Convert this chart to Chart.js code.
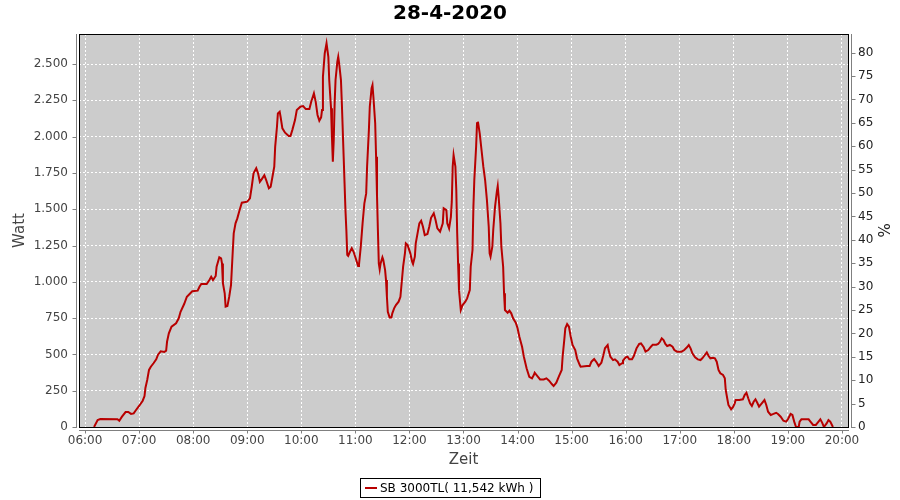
<!DOCTYPE html>
<html>
<head>
<meta charset="utf-8">
<script src="https://cdn.jsdelivr.net/npm/chart.js@4.4.0/dist/chart.umd.min.js"></script>
<style>
html,body{margin:0;padding:0;background:#fff;}
#wrap{width:900px;height:500px;}
</style>
</head>
<body>
<div id="wrap"><canvas id="c" width="900" height="500"></canvas></div>
<script>
const chartTitle = '28-4-2020';
const seriesLabel = 'SB 3000TL( 11,542 kWh )';
const xAxisTitle = 'Zeit';
const yAxisTitle = 'Watt';
const y2AxisTitle = '%';

const times = [
'06:10','06:14','06:17','06:36','06:38','06:41','06:45','06:48','06:51','06:54','06:56',
'07:00','07:04','07:06','07:07','07:09','07:11','07:13','07:16','07:19','07:21','07:24','07:28','07:30','07:31','07:33','07:36','07:41','07:44','07:46','07:50','07:53','07:59',
'08:05','08:07','08:09','08:15','08:18','08:20','08:22','08:25','08:26','08:29','08:31','08:32','08:33','08:35','08:36','08:38','08:40','08:42','08:44','08:45','08:47','08:49','08:51','08:54',
'09:00','09:03','09:05','09:07','09:10','09:12','09:14','09:16','09:19','09:21','09:24','09:26','09:28','09:30','09:31','09:33','09:34','09:36','09:37','09:39','09:42','09:46','09:48','09:50','09:53','09:55','09:59',
'10:02','10:05','10:09','10:11','10:14','10:16','10:18','10:20','10:22','10:23','10:24','10:26','10:28','10:30','10:31','10:33','10:34','10:35','10:36','10:37','10:38','10:40','10:41','10:42','10:44','10:45','10:47','10:48','10:49','10:50','10:51','10:52','10:54','10:56','10:58',
'11:01','11:03','11:04','11:06','11:08','11:10','11:12','11:13','11:15','11:16','11:18','11:19','11:20','11:22','11:23','11:24','11:25','11:26','11:27','11:28','11:30','11:31','11:33','11:34','11:35','11:36','11:38','11:40','11:41','11:43','11:45','11:48','11:50','11:51','11:53','11:55','11:56','11:58',
'12:01','12:03','12:04','12:06','12:07','12:09','12:11','12:13','12:15','12:17','12:20','12:22','12:24','12:27','12:29','12:31','12:34','12:37','12:38','12:41','12:42','12:44','12:46','12:47','12:48','12:49','12:51','12:52','12:53','12:54','12:55','12:57','12:59',
'13:02','13:04','13:07','13:08','13:10','13:11','13:12','13:14','13:15','13:16','13:18','13:20','13:22','13:24','13:26','13:28','13:29','13:30','13:32','13:33','13:35','13:37','13:38','13:39','13:41','13:42','13:44','13:45','13:46','13:49','13:51','13:53','13:55','13:58',
'14:00','14:02','14:05','14:07','14:10','14:13','14:16','14:18','14:19','14:22','14:25','14:29','14:32','14:35','14:38','14:40','14:43','14:46','14:49','14:50','14:52','14:53','14:55','14:57','14:59',
'15:01','15:04','15:06','15:09','15:10','15:17','15:20','15:22','15:25','15:28','15:30','15:33','15:35','15:37','15:40','15:41','15:43','15:46','15:48','15:51','15:53','15:56','15:57',
'16:00','16:02','16:04','16:07','16:09','16:12','16:15','16:17','16:20','16:22','16:25','16:28','16:30','16:34','16:36','16:38','16:40','16:42','16:44','16:46','16:49','16:52','16:54','16:57',
'17:02','17:05','17:08','17:10','17:12','17:14','17:17','17:20','17:23','17:25','17:27','17:30','17:32','17:34','17:37','17:39','17:41','17:43','17:45','17:48','17:50','17:51','17:53','17:54','17:57','17:59',
'18:01','18:02','18:06','18:10','18:12','18:14','18:16','18:18','18:20','18:22','18:24','18:26','18:28','18:31','18:34','18:36','18:38','18:41','18:44','18:47','18:49','18:52','18:55','18:58',
'19:00','19:03','19:05','19:07','19:09','19:12','19:13','19:15','19:23','19:25','19:28','19:31','19:34','19:36','19:38','19:40','19:43','19:45','19:47','19:50'
];

const watts = [
0,48,55,53,43,71,103,103,90,94,112,
145,181,213,269,324,393,415,439,466,498,521,517,525,587,645,691,714,749,794,847,897,935,
939,966,985,985,1012,1035,1012,1040,1104,1169,1162,1127,990,921,829,833,897,978,1219,1334,1403,1437,1483,1545,
1552,1575,1655,1747,1782,1747,1689,1706,1735,1701,1644,1655,1724,1793,1930,2068,2160,2172,2137,2057,2027,2004,2004,2045,2114,2183,2206,
2211,2190,2190,2240,2298,2240,2149,2110,2133,2183,2412,2574,2643,2550,2390,2195,1999,1827,1977,2229,2390,2516,2550,2505,2390,2229,1862,1678,1494,1357,1185,1178,1207,1231,1207,
1150,1109,1116,1242,1403,1541,1609,1793,2045,2206,2333,2355,2275,2092,1862,1598,1357,1127,1086,1127,1169,1150,1081,1012,897,794,755,755,783,817,840,863,897,966,1104,1196,1265,1253,
1196,1138,1123,1173,1265,1334,1403,1421,1379,1322,1329,1379,1441,1472,1426,1368,1345,1403,1506,1494,1403,1368,1448,1552,1793,1873,1793,1632,1334,1127,943,806,840,
863,886,943,1104,1219,1517,1701,1930,2092,2103,2022,1908,1793,1701,1563,1379,1196,1173,1242,1357,1517,1621,1660,1586,1403,1242,1104,921,806,787,801,783,749,718,
680,622,553,484,404,346,335,358,374,351,328,328,335,319,296,282,305,351,393,484,611,680,709,691,622,
565,530,473,427,415,420,420,450,468,443,420,443,489,542,565,530,484,461,466,450,427,439,457,
480,484,466,466,489,542,572,576,549,519,530,553,567,567,572,587,611,599,572,558,565,553,530,519,
519,530,549,565,542,508,480,466,461,473,489,514,489,473,477,473,450,393,370,358,335,255,186,152,122,136,
163,186,186,191,220,236,198,163,145,174,191,167,140,163,186,152,105,83,90,98,90,71,43,37,
53,90,83,37,0,0,37,53,53,37,14,14,37,53,30,0,25,48,37,0
];

const hourTicks = ['06:00','07:00','08:00','09:00','10:00','11:00','12:00','13:00','14:00','15:00','16:00','17:00','18:00','19:00','20:00'];
const wattTicks = [0,250,500,750,1000,1250,1500,1750,2000,2250,2500];
const percentTicks = [0,5,10,15,20,25,30,35,40,45,50,55,60,65,70,75,80];

const wattMax = 2707;
const percentMax = 84;
const timeMin = 353.3;   // minutes after midnight
const timeMax = 1206.7;

const toMin = s => { const p = s.split(':').map(Number); return p[0] * 60 + p[1]; };
const pad2 = n => String(n).padStart(2, '0');
const fmtTime = v => pad2(Math.floor(v / 60)) + ':' + pad2(Math.round(v % 60));
const fmtNum = v => String(v).replace(/\B(?=(\d{3})+(?!\d))/g, '.');

const FONT = 'DejaVu Sans';
Chart.defaults.font.family = FONT;

const lineColor = '#b80000';

const plotDecor = {
  id: 'plotDecor',
  beforeDraw(chart) {
    const {ctx, chartArea: a} = chart;
    ctx.save();
    ctx.fillStyle = '#ffffff';
    ctx.fillRect(0, 0, chart.width, chart.height);
    ctx.fillStyle = '#cccccc';
    ctx.fillRect(a.left, a.top, a.right - a.left, a.bottom - a.top);
    ctx.restore();
  },
  afterDraw(chart) {
    const {ctx, chartArea: a, scales} = chart;
    ctx.save();
    ctx.strokeStyle = '#000';
    ctx.lineWidth = 1;
    ctx.strokeRect(a.left + 0.5, a.top + 0.5, a.right - a.left, a.bottom - a.top);
    ctx.strokeStyle = '#808080';
    ctx.beginPath();
    const lx = a.left - 2.5, rx = a.right + 3.5, by = a.bottom + 3.5;
    ctx.moveTo(lx, a.top); ctx.lineTo(lx, a.bottom + 1);
    ctx.moveTo(rx, a.top); ctx.lineTo(rx, a.bottom + 1);
    ctx.moveTo(a.left, by); ctx.lineTo(a.right + 1, by);
    scales.y.ticks.forEach(t => {
      const y = Math.round(scales.y.getPixelForValue(t.value)) + 0.5;
      ctx.moveTo(lx - 4, y); ctx.lineTo(lx, y);
    });
    scales.y1.ticks.forEach(t => {
      const y = Math.round(scales.y1.getPixelForValue(t.value)) + 0.5;
      ctx.moveTo(rx, y); ctx.lineTo(rx + 4, y);
    });
    scales.x.ticks.forEach(t => {
      const x = Math.round(scales.x.getPixelForValue(t.value)) + 0.5;
      ctx.moveTo(x, by); ctx.lineTo(x, by + 3);
    });
    ctx.stroke();
    const ds = chart.data.datasets[0];
    ctx.font = '12px "' + FONT + '"';
    const tw = ctx.measureText(ds.label).width;
    const total = 5 + 12 + 3 + tw + 7;
    const left = Math.round(450.5 - total / 2);
    const top = 478, h = 19;
    ctx.strokeStyle = '#000';
    ctx.lineWidth = 1;
    ctx.strokeRect(left + 0.5, top + 0.5, Math.round(total), h);
    ctx.strokeStyle = ds.borderColor;
    ctx.lineWidth = 2;
    ctx.beginPath();
    ctx.moveTo(left + 5, top + 10); ctx.lineTo(left + 17, top + 10);
    ctx.stroke();
    ctx.fillStyle = '#000';
    ctx.textBaseline = 'middle';
    ctx.textAlign = 'left';
    ctx.fillText(ds.label, left + 20, top + 10.5);
    ctx.restore();
  }
};

new Chart(document.getElementById('c'), {
  type: 'line',
  data: {
    datasets: [{
      label: seriesLabel,
      data: times.map((t, i) => ({x: toMin(t), y: watts[i]})),
      borderColor: lineColor,
      backgroundColor: lineColor,
      borderWidth: 2,
      pointRadius: 0,
      tension: 0,
      fill: false,
      yAxisID: 'y'
    }]
  },
  options: {
    responsive: false,
    animation: false,
    devicePixelRatio: 1,
    layout: {padding: 0},
    plugins: {
      legend: {display: false},
      tooltip: {enabled: false},
      title: {
        display: true,
        text: chartTitle,
        color: '#000',
        font: {family: FONT, size: 20, weight: 'bold', lineHeight: 1.2},
        padding: {top: 2, bottom: 8}
      }
    },
    scales: {
      x: {
        type: 'linear',
        position: 'bottom',
        min: timeMin,
        max: timeMax,
        afterBuildTicks: s => { s.ticks = hourTicks.map(h => ({value: toMin(h)})); },
        afterFit: s => { s.height = 73; },
        ticks: {callback: v => fmtTime(v), color: '#444', font: {family: FONT, size: 12}, padding: 7, maxRotation: 0, autoSkip: false},
        grid: {color: '#ffffff', lineWidth: 1, drawTicks: false},
        border: {display: false, dash: [2, 2]},
        title: {display: true, text: xAxisTitle, color: '#444', font: {family: FONT, size: 15}, padding: {top: 0, bottom: 31}}
      },
      y: {
        type: 'linear',
        position: 'left',
        min: 0,
        max: wattMax,
        afterBuildTicks: s => { s.ticks = wattTicks.map(v => ({value: v})); },
        afterFit: s => { s.width = 79; },
        ticks: {callback: v => fmtNum(v), color: '#444', font: {family: FONT, size: 12}, padding: 11},
        grid: {color: '#ffffff', lineWidth: 1, drawTicks: false},
        border: {display: false, dash: [2, 2]},
        title: {display: true, text: yAxisTitle, color: '#444', font: {family: FONT, size: 15}, padding: {top: 11, bottom: 0}}
      },
      y1: {
        type: 'linear',
        position: 'right',
        display: true,
        min: 0,
        max: percentMax,
        afterBuildTicks: s => { s.ticks = percentTicks.map(v => ({value: v})); },
        afterFit: s => { s.width = 52; },
        ticks: {callback: v => String(v), color: '#222', font: {family: FONT, size: 12}, padding: 10},
        grid: {drawOnChartArea: false, drawTicks: false},
        border: {display: false},
        title: {display: true, text: y2AxisTitle, color: '#222', font: {family: FONT, size: 15}, padding: {top: 9, bottom: 0}}
      }
    }
  },
  plugins: [plotDecor]
});
</script>
</body>
</html>
